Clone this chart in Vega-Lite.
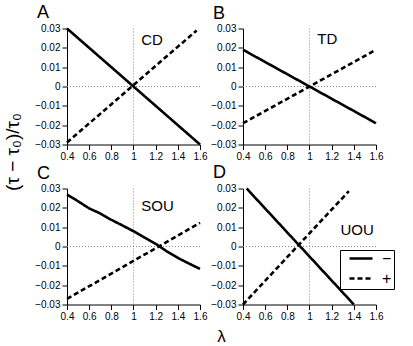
{
  "$schema": "https://vega.github.io/schema/vega-lite/v6.json",
  "background": "white",
  "padding": {"left": 3, "top": 3.5, "right": 5, "bottom": 0},
  "datasets": {
    "curves": [
      {"panel": "A", "sign": "−", "x": 0.4, "y": 0.03},
      {"panel": "A", "sign": "−", "x": 1.6, "y": -0.03},
      {"panel": "A", "sign": "+", "x": 0.4, "y": -0.029},
      {"panel": "A", "sign": "+", "x": 1.57, "y": 0.029},
      {"panel": "B", "sign": "−", "x": 0.4, "y": 0.019},
      {"panel": "B", "sign": "−", "x": 1.6, "y": -0.019},
      {"panel": "B", "sign": "+", "x": 0.4, "y": -0.019},
      {"panel": "B", "sign": "+", "x": 1.6, "y": 0.019},
      {"panel": "C", "sign": "−", "x": 0.4, "y": 0.0269},
      {"panel": "C", "sign": "−", "x": 0.5, "y": 0.0234},
      {"panel": "C", "sign": "−", "x": 0.6, "y": 0.0197},
      {"panel": "C", "sign": "−", "x": 0.7, "y": 0.0171},
      {"panel": "C", "sign": "−", "x": 0.8, "y": 0.0138},
      {"panel": "C", "sign": "−", "x": 0.9, "y": 0.0109},
      {"panel": "C", "sign": "−", "x": 1.0, "y": 0.0079},
      {"panel": "C", "sign": "−", "x": 1.1, "y": 0.0046},
      {"panel": "C", "sign": "−", "x": 1.2, "y": 0.0014},
      {"panel": "C", "sign": "−", "x": 1.3, "y": -0.0025},
      {"panel": "C", "sign": "−", "x": 1.4, "y": -0.0059},
      {"panel": "C", "sign": "−", "x": 1.5, "y": -0.0088},
      {"panel": "C", "sign": "−", "x": 1.6, "y": -0.0116},
      {"panel": "C", "sign": "+", "x": 0.4, "y": -0.0271},
      {"panel": "C", "sign": "+", "x": 1.6, "y": 0.0122},
      {"panel": "D", "sign": "−", "x": 0.433, "y": 0.03},
      {"panel": "D", "sign": "−", "x": 1.4, "y": -0.03},
      {"panel": "D", "sign": "+", "x": 0.4, "y": -0.03},
      {"panel": "D", "sign": "+", "x": 1.355, "y": 0.0286}
    ],
    "labels": [
      {"panel": "A", "label": "CD", "x": 1.07, "y": 0.0242},
      {"panel": "B", "label": "TD", "x": 1.07, "y": 0.0248},
      {"panel": "C", "label": "SOU", "x": 1.07, "y": 0.0209},
      {"panel": "D", "label": "UOU", "x": 1.28, "y": 0.0084}
    ]
  },
  "config": {
    "view": {"stroke": null},
    "font": "Liberation Sans",
    "axis": {
      "grid": false,
      "domainColor": "black",
      "tickColor": "black",
      "labelColor": "black",
      "labelFont": "Liberation Sans",
      "labelFontSize": 10,
      "labelOverlap": false,
      "labelFlush": false,
      "tickCount": 20,
      "tickSize": 5,
      "labelPadding": 2,
      "titleColor": "black",
      "titleFont": "Liberation Sans",
      "titleFontWeight": "normal"
    },
    "title": {
      "fontSize": 18,
      "fontWeight": "normal",
      "font": "Liberation Sans",
      "color": "black",
      "anchor": "start",
      "frame": "group",
      "dx": -30,
      "offset": 1,
      "baseline": "alphabetic"
    }
  },
  "columns": 2,
  "spacing": {"row": 44, "column": 43},
  "bounds": "flush",
  "resolve": {"scale": {"strokeDash": "independent"}, "legend": {"strokeDash": "independent"}},
  "concat": [
    {
      "title": "A",
      "width": 133,
      "height": 116,
      "layer": [
        {"data": {"values": [{}]}, "mark": {"type": "rule", "color": "#888", "strokeWidth": 1, "strokeDash": [1, 2]}, "encoding": {"x": {"datum": 1, "type": "quantitative"}}},
        {"data": {"values": [{}]}, "mark": {"type": "rule", "color": "#888", "strokeWidth": 1, "strokeDash": [1, 2]}, "encoding": {"y": {"datum": 0, "type": "quantitative"}}},
        {
          "data": {"name": "curves"},
          "transform": [{"filter": "datum.panel === 'A'"}],
          "mark": {"type": "line", "color": "black", "strokeWidth": 2.6},
          "encoding": {
            "x": {"field": "x", "type": "quantitative", "scale": {"domain": [0.4, 1.6], "nice": false, "zero": false}, "axis": {"title": null, "values": [0.4, 0.6, 0.8, 1, 1.2, 1.4, 1.6], "format": ".1~f"}},
            "y": {"field": "y", "type": "quantitative", "scale": {"domain": [-0.03, 0.03], "nice": false, "zero": false}, "axis": {"values": [-0.03, -0.02, -0.01, 0, 0.01, 0.02, 0.03], "format": ".2~f", "title": "(τ − τ₀)/τ₀", "titleFontSize": 19, "titleX": -45, "titleY": 123, "titleAngle": 270, "titleBaseline": "bottom", "titleAlign": "center"}},
            "strokeDash": {"field": "sign", "type": "nominal", "scale": {"domain": ["−", "+"], "range": [[1, 0], [5, 3]]}, "legend": null}
          }
        },
        {
          "data": {"name": "labels"},
          "transform": [{"filter": "datum.panel === 'A'"}],
          "mark": {"type": "text", "align": "left", "baseline": "middle", "fontSize": 15, "font": "Liberation Sans", "color": "black"},
          "encoding": {"x": {"field": "x", "type": "quantitative"}, "y": {"field": "y", "type": "quantitative"}, "text": {"field": "label"}}
        }
      ]
    },
    {
      "title": "B",
      "width": 133,
      "height": 116,
      "layer": [
        {"data": {"values": [{}]}, "mark": {"type": "rule", "color": "#888", "strokeWidth": 1, "strokeDash": [1, 2]}, "encoding": {"x": {"datum": 1, "type": "quantitative"}}},
        {"data": {"values": [{}]}, "mark": {"type": "rule", "color": "#888", "strokeWidth": 1, "strokeDash": [1, 2]}, "encoding": {"y": {"datum": 0, "type": "quantitative"}}},
        {
          "data": {"name": "curves"},
          "transform": [{"filter": "datum.panel === 'B'"}],
          "mark": {"type": "line", "color": "black", "strokeWidth": 2.6},
          "encoding": {
            "x": {"field": "x", "type": "quantitative", "scale": {"domain": [0.4, 1.6], "nice": false, "zero": false}, "axis": {"title": null, "values": [0.4, 0.6, 0.8, 1, 1.2, 1.4, 1.6], "format": ".1~f"}},
            "y": {"field": "y", "type": "quantitative", "scale": {"domain": [-0.03, 0.03], "nice": false, "zero": false}, "axis": {"title": null, "values": [-0.03, -0.02, -0.01, 0, 0.01, 0.02, 0.03], "format": ".2~f"}},
            "strokeDash": {"field": "sign", "type": "nominal", "scale": {"domain": ["−", "+"], "range": [[1, 0], [5, 3]]}, "legend": null}
          }
        },
        {
          "data": {"name": "labels"},
          "transform": [{"filter": "datum.panel === 'B'"}],
          "mark": {"type": "text", "align": "left", "baseline": "middle", "fontSize": 15, "font": "Liberation Sans", "color": "black"},
          "encoding": {"x": {"field": "x", "type": "quantitative"}, "y": {"field": "y", "type": "quantitative"}, "text": {"field": "label"}}
        }
      ]
    },
    {
      "title": "C",
      "width": 133,
      "height": 116,
      "layer": [
        {"data": {"values": [{}]}, "mark": {"type": "rule", "color": "#888", "strokeWidth": 1, "strokeDash": [1, 2]}, "encoding": {"x": {"datum": 1, "type": "quantitative"}}},
        {"data": {"values": [{}]}, "mark": {"type": "rule", "color": "#888", "strokeWidth": 1, "strokeDash": [1, 2]}, "encoding": {"y": {"datum": 0, "type": "quantitative"}}},
        {
          "data": {"name": "curves"},
          "transform": [{"filter": "datum.panel === 'C'"}],
          "mark": {"type": "line", "color": "black", "strokeWidth": 2.6},
          "encoding": {
            "x": {"field": "x", "type": "quantitative", "scale": {"domain": [0.4, 1.6], "nice": false, "zero": false}, "axis": {"values": [0.4, 0.6, 0.8, 1, 1.2, 1.4, 1.6], "format": ".1~f", "title": "λ", "titleFontSize": 17, "titleX": 154, "titleY": 24, "titleBaseline": "top", "titleAlign": "center"}},
            "y": {"field": "y", "type": "quantitative", "scale": {"domain": [-0.03, 0.03], "nice": false, "zero": false}, "axis": {"title": null, "values": [-0.03, -0.02, -0.01, 0, 0.01, 0.02, 0.03], "format": ".2~f"}},
            "strokeDash": {"field": "sign", "type": "nominal", "scale": {"domain": ["−", "+"], "range": [[1, 0], [5, 3]]}, "legend": null}
          }
        },
        {
          "data": {"name": "labels"},
          "transform": [{"filter": "datum.panel === 'C'"}],
          "mark": {"type": "text", "align": "left", "baseline": "middle", "fontSize": 15, "font": "Liberation Sans", "color": "black"},
          "encoding": {"x": {"field": "x", "type": "quantitative"}, "y": {"field": "y", "type": "quantitative"}, "text": {"field": "label"}}
        }
      ]
    },
    {
      "title": "D",
      "width": 133,
      "height": 116,
      "layer": [
        {"data": {"values": [{}]}, "mark": {"type": "rule", "color": "#888", "strokeWidth": 1, "strokeDash": [1, 2]}, "encoding": {"x": {"datum": 1, "type": "quantitative"}}},
        {"data": {"values": [{}]}, "mark": {"type": "rule", "color": "#888", "strokeWidth": 1, "strokeDash": [1, 2]}, "encoding": {"y": {"datum": 0, "type": "quantitative"}}},
        {
          "data": {"name": "curves"},
          "transform": [{"filter": "datum.panel === 'D'"}],
          "mark": {"type": "line", "color": "black", "strokeWidth": 2.6},
          "encoding": {
            "x": {"field": "x", "type": "quantitative", "scale": {"domain": [0.4, 1.6], "nice": false, "zero": false}, "axis": {"title": null, "values": [0.4, 0.6, 0.8, 1, 1.2, 1.4, 1.6], "format": ".1~f"}},
            "y": {"field": "y", "type": "quantitative", "scale": {"domain": [-0.03, 0.03], "nice": false, "zero": false}, "axis": {"title": null, "values": [-0.03, -0.02, -0.01, 0, 0.01, 0.02, 0.03], "format": ".2~f"}},
            "strokeDash": {
              "field": "sign", "type": "nominal",
              "scale": {"domain": ["−", "+"], "range": [[1, 0], [5, 3]]},
              "legend": {
                "orient": "none", "legendX": 97, "legendY": 61.5, "title": null,
                "strokeColor": "black", "fillColor": "white", "cornerRadius": 0,
                "padding": 2, "symbolOffset": 6, "clipHeight": 13, "rowPadding": 3,
                "symbolType": "stroke", "symbolSize": 529, "symbolStrokeWidth": 2.6, "symbolStrokeColor": "black",
                "labelFontSize": 16, "labelFont": "Liberation Sans", "labelColor": "black", "labelOffset": 8
              }
            }
          }
        },
        {
          "data": {"name": "labels"},
          "transform": [{"filter": "datum.panel === 'D'"}],
          "mark": {"type": "text", "align": "left", "baseline": "middle", "fontSize": 15, "font": "Liberation Sans", "color": "black"},
          "encoding": {"x": {"field": "x", "type": "quantitative"}, "y": {"field": "y", "type": "quantitative"}, "text": {"field": "label"}}
        }
      ]
    }
  ]
}
